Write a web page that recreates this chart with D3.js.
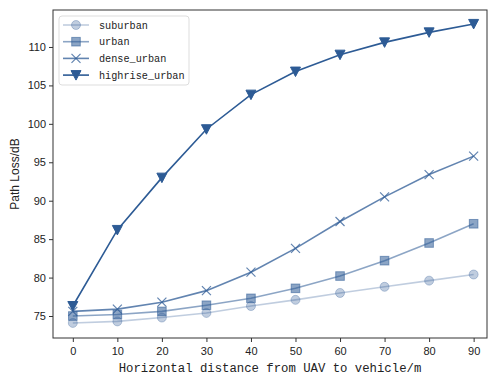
<!DOCTYPE html>
<html><head><meta charset="utf-8">
<script src="https://cdn.jsdelivr.net/npm/d3@7"></script>
<style>body{margin:0;background:#fff;}</style>
</head><body>
<svg id="c" width="490" height="378"></svg>
<script>
const distances = [0,10,20,30,40,50,60,70,80,90];
const suburban = [74.1,74.3,74.8,75.4,76.3,77.1,78.0,78.8,79.6,80.4];
const urban = [75.0,75.2,75.6,76.4,77.3,78.6,80.2,82.2,84.5,87.0];
const dense_urban = [75.6,75.9,76.8,78.3,80.7,83.8,87.3,90.5,93.4,95.8];
const highrise_urban = [76.3,86.2,93.0,99.3,103.8,106.8,109.0,110.6,111.9,113.0];
const yTicks = [75,80,85,90,95,100,105,110];
const seriesNames = ["suburban","urban","dense_urban","highrise_urban"];
const seriesData = [suburban, urban, dense_urban, highrise_urban];
const seriesAlpha = [0.3, 0.55, 0.75, 1.0];
const seriesMarker = ["circle","square","x","tri"];

const color = "#2d5b95";
const svg = d3.select("#c");
const L=53, R=487, T=10, B=338;
const x = d3.scaleLinear().domain([-4.45, 93.0]).range([L, R]);
const y = d3.scaleLinear().domain([72.14, 114.81]).range([B, T]);

const g = svg.append("g");
// series
function drawMarker(sel, type, cx, cy, a) {
  if (type==="circle") sel.append("circle").attr("cx",cx).attr("cy",cy).attr("r",4.5).attr("fill",color).attr("fill-opacity",a).attr("stroke",color).attr("stroke-opacity",a);
  else if (type==="square") sel.append("rect").attr("x",cx-4.3).attr("y",cy-4.3).attr("width",8.6).attr("height",8.6).attr("fill",color).attr("fill-opacity",a).attr("stroke",color).attr("stroke-opacity",a);
  else if (type==="x") sel.append("path").attr("d",`M${cx-4.5},${cy-4.5}L${cx+4.5},${cy+4.5}M${cx-4.5},${cy+4.5}L${cx+4.5},${cy-4.5}`).attr("stroke",color).attr("stroke-opacity",a).attr("stroke-width",1.2).attr("fill","none");
  else sel.append("path").attr("d",`M${cx-5},${cy-4.5}L${cx+5},${cy-4.5}L${cx},${cy+5}Z`).attr("fill",color).attr("fill-opacity",a).attr("stroke",color).attr("stroke-opacity",a);
}
const line = d3.line().x((d,i)=>x(distances[i])).y(d=>y(d));
seriesData.forEach((data,si)=>{
  const a = seriesAlpha[si];
  g.append("path").attr("d",line(data)).attr("fill","none").attr("stroke",color).attr("stroke-opacity",a).attr("stroke-width",1.6);
  data.forEach((v,i)=>drawMarker(g, seriesMarker[si], x(distances[i]), y(v), a));
});

// axes frame
svg.append("rect").attr("x",L).attr("y",T).attr("width",R-L).attr("height",B-T).attr("fill","none").attr("stroke","#333").attr("stroke-width",1);
const xa = svg.append("g").attr("transform",`translate(0,${B})`).call(d3.axisBottom(x).tickValues(distances).tickSize(4).tickSizeOuter(0));
const ya = svg.append("g").attr("transform",`translate(${L},0)`).call(d3.axisLeft(y).tickValues(yTicks).tickSize(4).tickSizeOuter(0));
[xa,ya].forEach(a=>{a.select(".domain").remove(); a.selectAll("line").attr("stroke","#333"); a.selectAll("text").attr("fill","#222").style("font-family","'Liberation Sans', Arial, sans-serif").style("font-size","11px");});
xa.selectAll("text").attr("dy","0.95em");

svg.append("text").attr("x",(L+R)/2).attr("y",372).attr("text-anchor","middle").style("font-family","'Liberation Mono', monospace").style("font-size","12.3px").attr("fill","#222").text("Horizontal distance from UAV to vehicle/m");
svg.append("text").attr("transform",`translate(19,${(T+B)/2}) rotate(-90)`).attr("text-anchor","middle").style("font-family","'Liberation Sans', Arial, sans-serif").style("font-size","12px").attr("fill","#222").text("Path Loss/dB");

// legend
const lg = svg.append("g");
lg.append("rect").attr("x",59).attr("y",16).attr("width",130).attr("height",69).attr("rx",3).attr("fill","#fff").attr("fill-opacity",0.8).attr("stroke","#ddd");
seriesNames.forEach((n,i)=>{
  const yy = 25 + i*16.7;
  const a = seriesAlpha[i];
  lg.append("line").attr("x1",63).attr("x2",89).attr("y1",yy).attr("y2",yy).attr("stroke",color).attr("stroke-opacity",a).attr("stroke-width",1.6);
  drawMarker(lg, seriesMarker[i], 76, yy, a);
  lg.append("text").attr("x",99).attr("y",yy).attr("dy","0.35em").style("font-family","'Liberation Mono', monospace").style("font-size","10.2px").attr("fill","#222").text(n);
});
</script>
</body></html>
